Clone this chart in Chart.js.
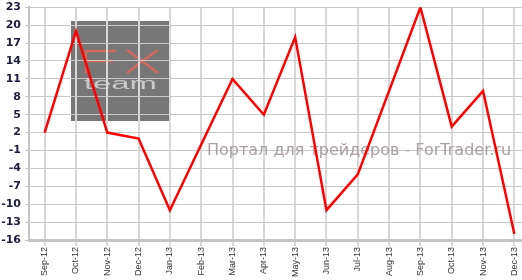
<!DOCTYPE html>
<html>
<head>
<meta charset="utf-8">
<script src="https://cdn.jsdelivr.net/npm/chart.js@4.4.1/dist/chart.umd.min.js"></script>
<style>
    html, body { margin: 0; padding: 0; background: #fff; overflow: hidden; }
</style>
</head>
<body>
<canvas id="fxChart" width="530" height="280"></canvas>
<script>
const months = ["Sep-12", "Oct-12", "Nov-12", "Dec-12", "Jan-13", "Feb-13", "Mar-13", "Apr-13",
    "May-13", "Jun-13", "Jul-13", "Aug-13", "Sep-13", "Oct-13", "Nov-13", "Dec-13"];
const values = [2, 19, 2, 1, -11, 0, 11, 5, 18, -11, -5, 9, 23, 3, 9, -15];
const yTicks = [-16, -13, -10, -7, -4, -1, 2, 5, 8, 11, 14, 17, 20, 23];
const watermark = "Портал для трейдеров - ForTrader.ru";

// background + FX team logo (under the grid)
const logoPlugin = {
    id: "logo",
    beforeDraw(chart) {
        const c = chart.ctx;
        c.save();
        c.fillStyle = "#ffffff";
        c.fillRect(0, 0, chart.width, chart.height);
        c.fillStyle = "#777777";
        c.fillRect(71, 21, 99, 100);
        // FX
        c.strokeStyle = "#d06a5c";
        c.lineWidth = 2.5;
        c.beginPath();
        c.moveTo(86, 50); c.lineTo(86, 73);
        c.moveTo(86, 51); c.lineTo(116, 51);
        c.moveTo(86, 61); c.lineTo(113, 61);
        c.moveTo(127, 50); c.quadraticCurveTo(142, 61, 158, 73);
        c.moveTo(158, 50); c.quadraticCurveTo(142, 61, 127, 73);
        c.stroke();
        // team
        c.fillStyle = "#c8c8c8";
        c.font = "16px 'Liberation Sans'";
        c.textBaseline = "alphabetic";
        c.translate(84, 89);
        c.scale(2.05, 1);
        c.fillText("team", 0, 0);
        c.restore();
    },
    beforeDatasetsDraw(chart) {
        const c = chart.ctx;
        c.save();
        c.fillStyle = "#aaa0a0";
        c.font = "16px 'DejaVu Sans'";
        c.textBaseline = "alphabetic";
        c.fillText(watermark, 207, 155, 308);
        c.restore();
    }
};

new Chart(document.getElementById("fxChart"), {
    type: "line",
    data: {
        labels: months,
        datasets: [
            {
                data: values,
                borderColor: "#ff0000",
                borderWidth: 2.5,
                pointRadius: 0,
                tension: 0,
                fill: false,
            },
        ],
    },
    options: {
        responsive: false,
        animation: false,
        events: [],
        layout: { padding: 0 },
        plugins: { legend: { display: false }, tooltip: { enabled: false } },
        scales: {
            x: {
                offset: true,
                afterFit: (s) => { s.height = 40; },
                grid: { color: "#d8d8d8", lineWidth: 2, offset: false, tickLength: 6 },
                border: { color: "#c4c4c4", width: 3 },
                ticks: {
                    minRotation: 90,
                    maxRotation: 90,
                    autoSkip: false,
                    padding: 1,
                    color: "#333333",
                    font: { family: "'Liberation Sans'", size: 9 },
                },
            },
            y: {
                min: -16,
                max: 23,
                afterBuildTicks: (s) => { s.ticks = yTicks.map((v) => ({ value: v })); },
                afterFit: (s) => { s.width = 29; },
                grid: { color: "#c8c8c8", lineWidth: 1, tickLength: 4 },
                border: { color: "#c4c4c4", width: 2 },
                ticks: {
                    padding: 4,
                    color: "#1c1c3c",
                    font: { family: "'DejaVu Sans'", size: 11, weight: "bold", lineHeight: 0.6 },
                },
            },
        },
    },
    plugins: [logoPlugin],
});
</script>
</body>
</html>
